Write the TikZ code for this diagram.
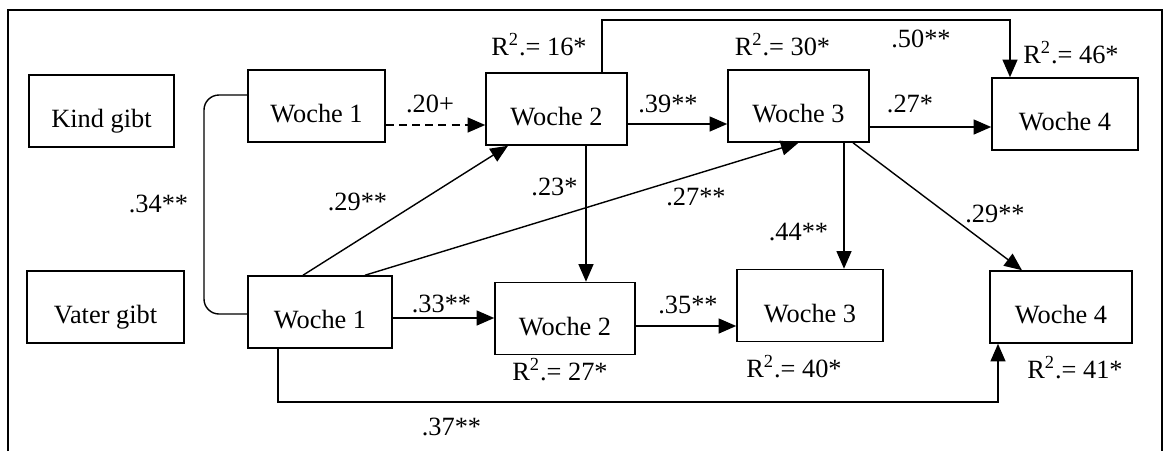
\documentclass[tikz,border=0pt]{standalone}
\usepackage{fontspec}
\setmainfont{Liberation Serif}
\usetikzlibrary{arrows.meta}

\begin{document}
\begin{tikzpicture}[x=0.02cm,y=-0.02cm,font=\fontsize{15}{17}\selectfont,
  box/.style={draw,line width=0.9pt,minimum height=1.44cm,inner sep=0pt,text height=19.3pt,text depth=0pt},
  coef/.style={anchor=base,inner sep=0pt},
  arr/.style={-{Triangle[length=10pt,width=8.5pt]},line width=0.8pt}]
  \useasboundingbox (0,0) rectangle (1164,451);
  \draw[line width=0.75pt] (8,451) -- (8,10) -- (1162,10) -- (1162,451);

  \node[box,minimum width=2.90cm] (kind) at (101.5,111) {Kind gibt};
  \node[box,minimum width=3.14cm] (vater) at (105.5,307) {Vater gibt};
  \node[box,minimum width=2.74cm] (k1) at (316.5,106) {Woche 1};
  \node[box,minimum width=2.88cm] (v1) at (320,312) {Woche 1};
  \node[box,minimum width=2.82cm] (k2) at (556.5,109) {Woche 2};
  \node[box,minimum width=2.80cm] (v2) at (565,318.5) {Woche 2};
  \node[box,minimum width=2.82cm] (k3) at (798.5,106) {Woche 3};
  \node[box,minimum width=2.92cm] (v3) at (810,305.5) {Woche 3};
  \node[box,minimum width=2.92cm] (k4) at (1065,114) {Woche 4};
  \node[box,minimum width=2.84cm] (v4) at (1061,307) {Woche 4};

  \draw[line width=0.8pt,rounded corners=0.3cm] (k1.west |- 0,95) -| (204,200) |- (v1.west |- 0,314);
  \draw[arr,dash pattern=on 4.5pt off 3pt] (k1.east |- 0,125) -- (k2.west |- 0,125);
  \draw[arr] (v1.north -| 303,0) -- (k2.south -| 508,0);
  \draw[arr] (v1.north -| 365,0) -- (k3.south);
  \draw[arr] (k2.east |- 0,124) -- (k3.west |- 0,124);
  \draw[arr] (k2.south -| 586,0) -- (v2.north -| 586,0);
  \draw[arr] (v1.east |- 0,318) -- (v2.west |- 0,318);
  \draw[arr] (v2.east |- 0,326) -- (v3.west |- 0,326);
  \draw[arr] (k3.east |- 0,127) -- (k4.west |- 0,127);
  \draw[arr] (k3.south -| 844,0) -- (v3.north -| 844,0);
  \draw[arr] (k3.south -| 853,0) -- (v4.north -| 1022,0);
  \draw[arr] (k2.north -| 602,0) -- (602,20) -| (k4.north -| 1010,0);
  \draw[arr] (v1.south -| 278,0) -- (278,402) -| (v4.south -| 998,0);

  \node[coef] (l34) at (158.5,212) {.34**};
  \node[coef] (l20) at (430,112) {.20+};
  \node[coef] (l29a) at (357.5,210) {.29**};
  \node[coef] (l39) at (668,112) {.39**};
  \node[coef] (l23) at (554.5,195) {.23*};
  \node[coef] (l27a) at (696,205) {.27**};
  \node[coef] (l33) at (441.5,312) {.33**};
  \node[coef] (l35) at (688,313) {.35**};
  \node[coef] (l37) at (451.5,435) {.37**};
  \node[coef] (l44) at (798.5,240) {.44**};
  \node[coef] (l27b) at (910,112) {.27*};
  \node[coef] (l50) at (921,47) {.50**};
  \node[coef] (l29b) at (995,222) {.29**};

  \node[coef] (r16) at (539,55) {R\textsuperscript{2}.= 16*};
  \node[coef] (r30) at (782.5,55) {R\textsuperscript{2}.= 30*};
  \node[coef] (r46) at (1071,63) {R\textsuperscript{2}.= 46*};
  \node[coef] (r27) at (560,380) {R\textsuperscript{2}.= 27*};
  \node[coef] (r40) at (794,377) {R\textsuperscript{2}.= 40*};
  \node[coef] (r41) at (1075,378) {R\textsuperscript{2}.= 41*};
\end{tikzpicture}
\end{document}
